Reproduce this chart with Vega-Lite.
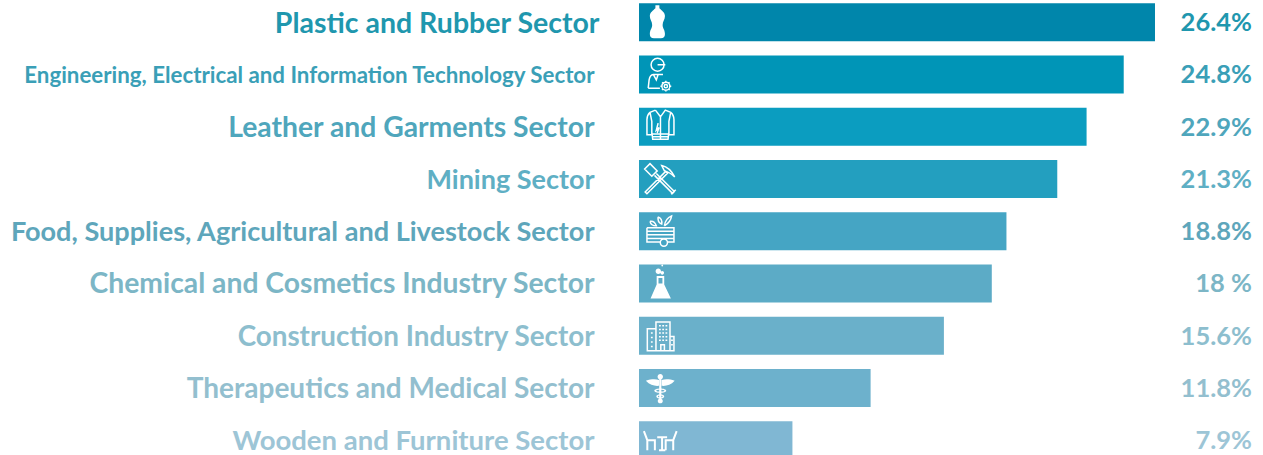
{
"$schema":"https://vega.github.io/schema/vega-lite/v6.json",
"width":624,"height":455,"autosize":"none","padding":{"left":639,"top":0,"right":0,"bottom":0},
"background":"white","config":{"view":{"stroke":null}},
"params":[{"name":"labelFill","expr":"{'Plastic and Rubber Sector':'#1f97ae','Engineering, Electrical and Information Technology Sector':'#3a9fb7','Leather and Garments Sector':'#4fa6bc','Mining Sector':'#5fafc4','Food, Supplies, Agricultural and Livestock Sector':'#5ea6bb','Chemical and Cosmetics Industry Sector':'#7cb6c6','Construction Industry Sector':'#8dbece','Therapeutics and Medical Sector':'#93bfcf','Wooden and Furniture Sector':'#9dc5d6'}"},
{"name":"labelSize","expr":"{'Plastic and Rubber Sector':28.5,'Engineering, Electrical and Information Technology Sector':22.3,'Leather and Garments Sector':28.3,'Mining Sector':27,'Food, Supplies, Agricultural and Livestock Sector':27.1,'Chemical and Cosmetics Industry Sector':28.3,'Construction Industry Sector':27.8,'Therapeutics and Medical Sector':28,'Wooden and Furniture Sector':27.5}"}],
"data":{"values":[
{"sector":"Plastic and Rubber Sector","share":26.4,"label":"26.4%"},
{"sector":"Engineering, Electrical and Information Technology Sector","share":24.8,"label":"24.8%"},
{"sector":"Leather and Garments Sector","share":22.9,"label":"22.9%"},
{"sector":"Mining Sector","share":21.4,"label":"21.3%"},
{"sector":"Food, Supplies, Agricultural and Livestock Sector","share":18.8,"label":"18.8%"},
{"sector":"Chemical and Cosmetics Industry Sector","share":18.05,"label":"18 %"},
{"sector":"Construction Industry Sector","share":15.6,"label":"15.6%"},
{"sector":"Therapeutics and Medical Sector","share":11.85,"label":"11.8%"},
{"sector":"Wooden and Furniture Sector","share":7.85,"label":"7.9%"}
]},
"encoding":{
"y":{"field":"sector","type":"nominal","title":null,
"scale":{"domain":["Plastic and Rubber Sector","Engineering, Electrical and Information Technology Sector","Leather and Garments Sector","Mining Sector","Food, Supplies, Agricultural and Livestock Sector","Chemical and Cosmetics Industry Sector","Construction Industry Sector","Therapeutics and Medical Sector","Wooden and Furniture Sector"],"range":[-3.9,466.35],"paddingInner":0.273,"paddingOuter":0.1365},
"axis":{"domain":false,"ticks":false,"grid":false,"labelPadding":45,"labelLimit":800,"labelOverlap":false,"labelBound":false,"labelFont":"Lato","labelFontWeight":700,"labelFontSize":27,
"encoding":{"labels":{"fill":{"value":{"expr":"labelFill[datum.value]"}},"fontSize":{"value":{"expr":"labelSize[datum.value]"}},"dx":{"value":{"expr":"datum.value==='Plastic and Rubber Sector'?5:0"}},"dy":{"value":2}}}}}
},
"layer":[
{"mark":{"type":"bar"},"encoding":{
"x":{"field":"share","type":"quantitative","axis":null,"scale":{"domain":[0,31.926],"range":[0,624],"nice":false,"zero":false}},
"color":{"field":"sector","type":"nominal","legend":null,"scale":{"domain":["Plastic and Rubber Sector","Engineering, Electrical and Information Technology Sector","Leather and Garments Sector","Mining Sector","Food, Supplies, Agricultural and Livestock Sector","Chemical and Cosmetics Industry Sector","Construction Industry Sector","Therapeutics and Medical Sector","Wooden and Furniture Sector"],"range":["#0086ab","#0095b7","#0b9dc0","#239fbf","#45a5c4","#5cabc6","#6ab0ca","#6db1cc","#80b7d3"]}}}},
{"mark":{"type":"text","align":"right","baseline":"middle","font":"Lato","fontWeight":700,"fontSize":25.5,"dy":1},"encoding":{
"x":{"datum":31.36,"type":"quantitative"},
"text":{"field":"label"},
"fill":{"field":"sector","type":"nominal","legend":null,"scale":{"domain":["Plastic and Rubber Sector","Engineering, Electrical and Information Technology Sector","Leather and Garments Sector","Mining Sector","Food, Supplies, Agricultural and Livestock Sector","Chemical and Cosmetics Industry Sector","Construction Industry Sector","Therapeutics and Medical Sector","Wooden and Furniture Sector"],"range":["#1f97ae","#3a9fb7","#4fa6bc","#5fafc4","#5ea6bb","#7cb6c6","#8dbece","#93bfcf","#9dc5d6"]}}}},
{"transform":[{"filter":{"field":"sector","oneOf":["Plastic and Rubber Sector","Chemical and Cosmetics Industry Sector","Therapeutics and Medical Sector"]}}],
"mark":{"type":"point","filled":true,"fill":"white","opacity":1,"stroke":null},
"encoding":{"x":{"datum":1.07,"type":"quantitative"},"size":{"value":1296},
"shape":{"field":"sector","type":"nominal","legend":null,"scale":{"domain":["Plastic and Rubber Sector","Chemical and Cosmetics Industry Sector","Therapeutics and Medical Sector"],"range":[
"M-0.25,-0.94 L-0.03,-0.94 L-0.03,-0.78 C0.1,-0.65 0.28,-0.55 0.28,-0.35 C0.28,-0.15 0.15,-0.05 0.15,0.15 C0.15,0.35 0.28,0.4 0.28,0.65 C0.28,0.82 0.2,0.89 0.05,0.89 L-0.33,0.89 C-0.48,0.89 -0.56,0.82 -0.56,0.65 C-0.56,0.4 -0.43,0.35 -0.43,0.15 C-0.43,-0.05 -0.56,-0.15 -0.56,-0.35 C-0.56,-0.55 -0.38,-0.65 -0.25,-0.78 Z",
"M-0.18,-0.41 L0.24,-0.41 L0.24,0.05 L0.61,0.83 L-0.52,0.83 L-0.18,0.05 Z M-0.08,-0.3 L-0.08,0 L0.14,0 L0.14,-0.3 Z M-0.24,-0.68 A0.15,0.15 0 1 1 0.06,-0.68 A0.15,0.15 0 1 1 -0.24,-0.68 Z M0.03,-0.59 A0.1,0.1 0 1 1 0.23,-0.59 A0.1,0.1 0 1 1 0.03,-0.59 Z M0.08,-1 A0.05,0.05 0 1 1 0.18,-1 A0.05,0.05 0 1 1 0.08,-1 Z",
"M-0.05,-0.45 C-0.25,-0.5 -0.5,-0.5 -0.78,-0.4 C-0.55,-0.15 -0.3,-0.1 -0.05,-0.12 Z M0.1,-0.45 C0.3,-0.5 0.55,-0.5 0.82,-0.4 C0.6,-0.15 0.35,-0.1 0.1,-0.12 Z M-0.13,-0.63 A0.15,0.15 0 1 1 0.17,-0.63 A0.15,0.15 0 1 1 -0.13,-0.63 Z M-0.04,-0.5 L0.08,-0.5 L0.08,0.85 L-0.04,0.85 Z M-0.31,0.15 A0.33,0.12 0 1 1 0.35,0.15 A0.33,0.12 0 1 1 -0.31,0.15 Z M-0.21,0.15 A0.23,0.05 0 1 0 0.25,0.15 A0.23,0.05 0 1 0 -0.21,0.15 Z M-0.2,0.47 A0.22,0.12 0 1 1 0.24,0.47 A0.22,0.12 0 1 1 -0.2,0.47 Z M-0.11,0.47 A0.13,0.05 0 1 0 0.15,0.47 A0.13,0.05 0 1 0 -0.11,0.47 Z M-0.12,0.72 A0.14,0.13 0 1 1 0.16,0.72 A0.14,0.13 0 1 1 -0.12,0.72 Z M-0.04,0.72 A0.06,0.06 0 1 0 0.08,0.72 A0.06,0.06 0 1 0 -0.04,0.72 Z"
]}}}},
{"transform":[{"filter":{"field":"sector","oneOf":["Engineering, Electrical and Information Technology Sector","Leather and Garments Sector","Mining Sector","Food, Supplies, Agricultural and Livestock Sector","Construction Industry Sector"]}}],
"mark":{"type":"point","filled":false,"stroke":"white","strokeWidth":1.5,"opacity":1},
"encoding":{"x":{"datum":1.07,"type":"quantitative"},"size":{"value":1296},
"shape":{"field":"sector","type":"nominal","legend":null,"scale":{"domain":["Engineering, Electrical and Information Technology Sector","Leather and Garments Sector","Mining Sector","Food, Supplies, Agricultural and Livestock Sector","Construction Industry Sector"],"range":[
"M0.23,-0.54 A0.36,0.36 0 1 0 -0.49,-0.54 A0.36,0.36 0 1 0 0.23,-0.54 M-0.13,-0.54 L0.3,-0.54 M-0.65,0.76 L-0.6,0.3 Q-0.55,0.02 -0.37,0 L0.17,0 M-0.65,0.76 L0,0.76 M-0.37,0 L-0.2,0.3 L-0.1,0 M0.55,0.65 A0.22,0.22 0 1 0 0.11,0.65 A0.22,0.22 0 1 0 0.55,0.65 M0.42,0.65 A0.09,0.09 0 1 0 0.24,0.65 A0.09,0.09 0 1 0 0.42,0.65 M0.33,0.35 L0.33,0.43 M0.33,0.87 L0.33,0.95 M0.03,0.65 L0.11,0.65 M0.55,0.65 L0.63,0.65 M0.12,0.44 L0.17,0.49 M0.49,0.81 L0.54,0.86 M0.12,0.86 L0.17,0.81 M0.49,0.49 L0.54,0.44",
"M-0.25,-0.92 L-0.55,-0.8 Q-0.72,-0.65 -0.72,-0.4 L-0.72,0.45 L-0.45,0.45 L-0.45,-0.3 M0.5,-0.3 L0.5,0.45 L0.78,0.45 L0.78,-0.4 Q0.78,-0.65 0.6,-0.8 L0.3,-0.92 L0.03,-0.55 L-0.25,-0.92 M-0.45,0.3 L-0.4,0.7 L0.45,0.7 L0.5,0.3 M0.03,-0.55 L0.03,0.7 M-0.4,0.4 L0.45,0.4 M-0.4,0.55 L0.45,0.55 M-0.1,-0.2 L-0.2,0.2 L-0.05,0.05 L-0.15,0.35 M-0.55,-0.8 L-0.45,-0.3 M0.6,-0.8 L0.5,-0.3",
"M-0.85,-0.55 L-0.55,-0.85 L-0.15,-0.45 L-0.45,-0.15 Z M-0.3,-0.2 L0.7,0.8 L0.8,0.7 L-0.2,-0.3 M0.62,0.85 L0.88,0.6 M-0.82,0.72 L0.32,-0.42 L0.42,-0.32 L-0.72,0.82 Z M0.1,-0.75 Q0.55,-0.65 0.82,-0.12 Q0.5,-0.4 0.25,-0.45 Z",
"M-0.72,-0.2 L0.78,-0.2 L0.78,0.6 L0.42,0.6 M0.02,0.6 L-0.72,0.6 L-0.72,-0.2 M-0.72,0.2 L0.78,0.2 M-0.72,0 L0.78,0 M-0.72,0.4 L0.78,0.4 M0.42,0.63 A0.2,0.2 0 1 0 0.02,0.63 A0.2,0.2 0 1 0 0.42,0.63 M-0.55,-0.55 Q-0.3,-0.6 -0.2,-0.3 Q-0.5,-0.3 -0.55,-0.55 M-0.1,-0.8 Q0.15,-0.7 0.1,-0.4 Q-0.15,-0.5 -0.1,-0.8 M0.25,-0.3 Q0.3,-0.7 0.65,-0.85 Q0.6,-0.5 0.25,-0.3",
"M-0.22,0.83 L-0.22,-0.76 L0.56,-0.76 L0.56,0.83 Z M-0.22,-0.39 L-0.7,-0.39 L-0.7,0.83 L-0.22,0.83 M0.56,0.04 L0.78,0.04 L0.78,0.83 L0.56,0.83 M-0.05,-0.55 h0.1 M0.13,-0.55 h0.1 M0.31,-0.55 h0.1 M-0.05,-0.35 h0.1 M0.13,-0.35 h0.1 M0.31,-0.35 h0.1 M-0.05,-0.15 h0.1 M0.13,-0.15 h0.1 M0.31,-0.15 h0.1 M-0.05,0.05 h0.1 M0.13,0.05 h0.1 M0.31,0.05 h0.1 M-0.05,0.25 h0.1 M0.13,0.25 h0.1 M0.31,0.25 h0.1 M0.05,0.83 L0.05,0.5 L0.25,0.5 L0.25,0.83 M-0.5,-0.15 h0.1 M-0.5,0.1 h0.1 M-0.5,0.35 h0.1 M-0.5,0.6 h0.1 M0.62,0.25 h0.1 M0.62,0.5 h0.1"
]}}}},
{"transform":[{"filter":{"field":"sector","equal":"Wooden and Furniture Sector"}}],
"mark":{"type":"point","filled":false,"stroke":"white","strokeWidth":2,"opacity":1},
"encoding":{"x":{"datum":1.07,"type":"quantitative"},"size":{"value":1296},
"shape":{"field":"sector","type":"nominal","legend":null,"scale":{"domain":["Wooden and Furniture Sector"],"range":["M-0.89,-0.5 L-0.7,0 L-0.28,0 L-0.28,0.55 M-0.7,0 L-0.7,0.55 M-0.15,-0.17 L0.4,-0.17 M0.12,-0.17 L0.12,0.55 M-0.05,0.55 L0.3,0.55 M0.93,-0.5 L0.74,0 L0.32,0 L0.32,0.55 M0.74,0 L0.74,0.55"]}}}}
],
"resolve":{"scale":{"shape":"independent"}}
}
